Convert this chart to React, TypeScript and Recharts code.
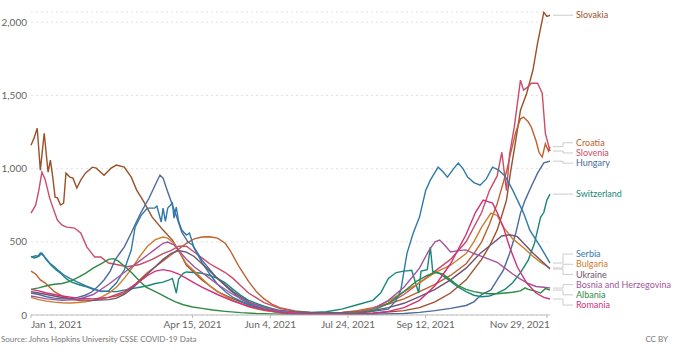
import React from 'react';
import { LineChart, Line, XAxis, YAxis, CartesianGrid } from 'recharts';

// daily new confirmed cases per million, [day since Jan 1 2021, value]
const slovakia: [number, number][] = [
  [0, 1160], [2, 1210], [4, 1276], [6, 990], [8.5, 1242], [11, 976], [12.5, 1058], [14, 940], [15.5, 805],
  [17, 800], [19, 751], [21, 765], [22.5, 969], [25, 942], [27, 935], [29.5, 867], [32, 921], [35, 969],
  [39.5, 1010], [42, 1003], [47, 955], [51.5, 1003], [55, 1024], [60, 1010], [64.5, 942], [68, 853], [72, 785],
  [78, 669], [85, 580], [91, 512], [96, 423], [100, 340], [105, 290], [110, 240], [115, 200], [120, 160],
  [130, 110], [140, 70], [150, 40], [160, 20], [170, 12], [180, 8], [200, 8], [220, 12], [240, 30], [250, 50],
  [260, 90], [270, 150], [280, 240], [290, 380], [295, 470], [300, 580], [303, 680], [306, 785], [308.5, 969],
  [312, 1195], [315, 1399], [319, 1515], [323, 1672], [326, 1857], [330, 2068], [332, 2040], [334, 2048],
];
const croatia: [number, number][] = [
  [0, 300], [3, 280], [6, 240], [9, 220], [12, 190], [15, 160], [20, 130], [25, 110], [30, 100], [35, 95],
  [40, 100], [45, 110], [50, 120], [55, 130], [60, 150], [65, 190], [70, 240], [75, 290], [80, 330], [85, 370],
  [90, 410], [95, 450], [100, 490], [105, 520], [110, 533], [115, 535], [120, 525], [125, 490], [128, 444],
  [134, 328], [140, 230], [145, 160], [150, 110], [155, 75], [160, 50], [170, 28], [180, 18], [190, 15],
  [200, 18], [210, 30], [220, 50], [230, 75], [240, 110], [250, 160], [260, 210], [270, 270], [280, 350],
  [285, 420], [290, 500], [295, 620], [300, 760], [303, 870], [306, 980], [309, 1120], [312, 1250], [315, 1340],
  [317, 1352], [320, 1320], [322, 1283], [325, 1190], [327, 1110], [329, 1079], [331, 1170], [333, 1120], [334, 1150],
];
const slovenia: [number, number][] = [
  [0, 696], [3, 750], [5, 850], [7, 976], [9, 930], [12, 800], [14, 737], [17, 648], [20, 614], [23, 600],
  [28, 594], [32, 560], [36, 464], [39, 423], [41, 396], [45, 396], [48, 370], [50, 355], [55, 345], [62, 330],
  [70, 345], [78, 380], [85, 420], [90, 440], [95, 470], [100, 470], [105, 430], [110, 390], [115, 350],
  [120, 320], [125, 290], [130, 250], [135, 200], [140, 150], [150, 85], [160, 45], [170, 25], [180, 15],
  [190, 12], [200, 15], [210, 25], [220, 45], [230, 80], [240, 140], [250, 220], [260, 300], [270, 380],
  [280, 500], [290, 700], [295, 850], [300, 950], [303, 1112], [306, 850], [308, 1100], [311, 1283], [315, 1604],
  [317, 1536], [320, 1560], [322, 1583], [326, 1583], [329, 1515], [331, 1242], [334, 1120],
];
const hungary: [number, number][] = [
  [0, 150], [5, 140], [10, 125], [15, 115], [20, 110], [25, 110], [30, 120], [35, 135], [39, 157], [43, 195],
  [47, 239], [51, 300], [54, 375], [57, 420], [60, 464], [64.5, 560], [68, 640], [71, 705], [76, 799], [80, 890],
  [83, 956], [85, 935], [88, 840], [91, 751], [94, 662], [97, 567], [101, 498], [104, 478], [110, 375],
  [119, 260], [128, 171], [135, 110], [140, 80], [150, 35], [160, 15], [170, 8], [180, 5], [200, 4], [220, 5],
  [240, 10], [250, 18], [260, 30], [270, 45], [280, 65], [285, 90], [290, 140], [296, 171], [300, 240],
  [304, 307], [308, 420], [312, 560], [315, 696], [318, 785], [322, 880], [326, 969], [330, 1040], [332, 1045],
  [334, 1051],
];
const switzerland: [number, number][] = [
  [0, 400], [2, 390], [4, 395], [6, 423], [8, 405], [10, 375], [13, 340], [16, 310], [19, 285], [22, 255],
  [25, 230], [30, 210], [35, 195], [40, 175], [45, 165], [50, 160], [55, 160], [60, 170], [65, 180], [70, 190],
  [75, 200], [80, 215], [85, 225], [89, 240], [91, 250], [93.5, 150], [95, 245], [98, 285], [100, 294],
  [105, 290], [110, 285], [115, 270], [120, 250], [125, 220], [130, 175], [135, 135], [140, 100], [145, 80],
  [150, 60], [155, 45], [160, 32], [170, 20], [180, 18], [190, 22], [200, 40], [210, 70], [220, 100], [225, 150],
  [230, 250], [235, 290], [240, 300], [245, 305], [249.5, 150], [251, 300], [255, 310], [257, 464], [258.5, 300],
  [262, 290], [266, 260], [270, 230], [275, 190], [280, 160], [285, 135], [290, 125], [295, 130], [300, 150],
  [305, 175], [310, 220], [315, 290], [320, 375], [324, 490], [326, 580], [328, 669], [330, 700], [332, 785],
  [334, 826],
];
const serbia: [number, number][] = [
  [0, 395], [3, 405], [5, 400], [7, 423], [9, 395], [12, 355], [15, 330], [18, 300], [21, 275], [25, 250],
  [30, 225], [35, 200], [40, 180], [45, 160], [50, 165], [55, 220], [60, 307], [64.5, 444], [67, 600], [71, 683],
  [75, 730], [79.5, 730], [81, 745], [83.8, 635], [85, 730], [86.5, 640], [88, 730], [91, 764], [92, 662],
  [93.5, 737], [95, 640], [97, 580], [100, 546], [102, 560], [105, 457], [110, 360], [115, 280], [120, 210],
  [125, 160], [130, 120], [140, 70], [150, 40], [160, 20], [170, 12], [180, 8], [195, 8], [210, 12], [220, 25],
  [230, 40], [235, 100], [238, 170], [242, 423], [246, 560], [250, 669], [254, 850], [257, 921], [262, 1010],
  [265, 980], [268, 942], [272, 1000], [275, 1038], [278, 1000], [281, 942], [285, 905], [289, 887], [293, 930],
  [297, 1010], [301, 990], [305, 950], [310, 853], [317, 696], [321, 580], [328, 464], [334, 355],
];
const bulgaria: [number, number][] = [
  [0, 120], [5, 105], [10, 95], [15, 88], [20, 84], [25, 82], [30, 85], [35, 90], [40, 100], [45, 120],
  [50, 150], [55, 190], [60, 250], [65, 320], [70, 400], [75, 470], [80, 515], [85, 533], [88, 525], [92, 490],
  [96, 420], [100, 350], [105, 300], [110, 250], [115, 200], [120, 160], [130, 100], [140, 55], [150, 30],
  [160, 18], [170, 12], [190, 10], [200, 14], [210, 22], [220, 45], [230, 95], [240, 160], [250, 220],
  [260, 290], [270, 340], [280, 420], [285, 500], [290, 600], [296, 696], [300, 680], [304, 600], [310, 520],
  [317, 460], [322, 410], [328, 360], [334, 321],
];
const ukraine: [number, number][] = [
  [0, 160], [5, 150], [10, 140], [20, 120], [30, 105], [40, 100], [50, 105], [55, 115], [60, 140], [65, 180],
  [70, 230], [75, 280], [80, 330], [85, 380], [90, 420], [95, 440], [100, 430], [105, 400], [110, 350],
  [115, 300], [120, 250], [130, 160], [140, 90], [150, 50], [160, 28], [170, 18], [180, 15], [200, 15],
  [210, 20], [220, 30], [230, 50], [240, 80], [250, 125], [260, 175], [270, 240], [280, 320], [289, 420],
  [296, 480], [303, 540], [308, 548], [313, 535], [317, 490], [323, 423], [330, 355], [334, 314],
];
const bosnia: [number, number][] = [
  [0, 130], [5, 120], [10, 110], [20, 100], [30, 105], [40, 140], [50, 210], [60, 290], [70, 370], [75, 410],
  [80, 450], [85, 490], [88, 498], [92, 480], [96, 430], [100, 380], [105, 330], [110, 290], [115, 250],
  [120, 210], [130, 140], [140, 85], [150, 50], [160, 28], [170, 15], [180, 10], [200, 10], [210, 18],
  [220, 40], [230, 100], [240, 190], [250, 320], [256, 440], [260, 500], [263, 512], [266, 480], [270, 430],
  [275, 440], [280, 445], [285, 420], [290, 400], [295, 380], [300, 360], [305, 320], [310, 280], [315, 245],
  [320, 215], [325, 195], [330, 190], [334, 184],
];
const albania: [number, number][] = [
  [0, 175], [5, 185], [10, 200], [15, 210], [20, 215], [25, 230], [30, 255], [35, 285], [40, 320], [45, 350],
  [50, 380], [53, 385], [56, 370], [60, 335], [65, 287], [70, 230], [74, 191], [78, 170], [82, 150], [88, 115],
  [93, 89], [98, 70], [104, 55], [110, 45], [117, 34], [125, 25], [135, 16], [145, 10], [160, 6], [180, 5],
  [200, 6], [210, 12], [220, 30], [230, 80], [240, 160], [248, 230], [255, 270], [260, 290], [265, 280],
  [270, 240], [275, 200], [280, 175], [285, 160], [290, 150], [295, 145], [300, 145], [305, 150], [310, 155],
  [315, 165], [318, 185], [320, 175], [324, 165], [328, 150], [331, 180], [334, 170],
];
const romania: [number, number][] = [
  [0, 175], [5, 165], [10, 150], [20, 130], [30, 115], [40, 110], [50, 120], [60, 160], [70, 230], [75, 270],
  [80, 300], [85, 310], [90, 300], [95, 280], [100, 250], [105, 220], [110, 190], [120, 140], [130, 95],
  [140, 60], [150, 35], [160, 18], [170, 8], [180, 4], [200, 4], [210, 6], [220, 12], [230, 25], [240, 50],
  [250, 100], [260, 200], [270, 350], [280, 550], [286, 700], [291, 785], [297, 764], [300, 700], [304, 600],
  [308, 464], [313, 328], [319, 218], [325, 150], [330, 120], [334, 109],
];

const tickDays = [0, 104, 154, 204, 254, 332];
const tickLabels = ['Jan 1, 2021', 'Apr 15, 2021', 'Jun 4, 2021', 'Jul 24, 2021', 'Sep 12, 2021', 'Nov 29, 2021'];
const yTicks = [0, 500, 1000, 1500, 2000];

const series = [
  { name: 'Slovakia', pts: slovakia, color: '#9A5129' },
  { name: 'Croatia', pts: croatia, color: '#C0602E' },
  { name: 'Slovenia', pts: slovenia, color: '#CB4B68' },
  { name: 'Hungary', pts: hungary, color: '#4C6A9C' },
  { name: 'Switzerland', pts: switzerland, color: '#17877A' },
  { name: 'Serbia', pts: serbia, color: '#2F7AAA' },
  { name: 'Bulgaria', pts: bulgaria, color: '#CF7C2E' },
  { name: 'Ukraine', pts: ukraine, color: '#6E5470' },
  { name: 'Bosnia and Herzegovina', pts: bosnia, color: '#A2559C' },
  { name: 'Albania', pts: albania, color: '#2E8A45' },
  { name: 'Romania', pts: romania, color: '#D1307A' },
];

const W = 680;
const H = 357;
const Y_MAX = 2070;
const PLOT_TOP = 12;
const PLOT_H = 303;
const GAP = 10.2;
const FONT = 'Lato, "Noto Sans", sans-serif';

// push end labels apart so they don't overlap (pixel offsets from the line end)
function layoutLabels() {
  const px = PLOT_H / Y_MAX;
  const items = series
    .map((s) => ({ name: s.name, t: PLOT_TOP + (Y_MAX - s.pts[s.pts.length - 1][1]) * px }))
    .sort((a, b) => a.t - b.t);
  const clusters: { items: typeof items; top: number }[] = [];
  for (const it of items) {
    let c = { items: [it], top: it.t };
    while (clusters.length) {
      const prev = clusters[clusters.length - 1];
      if (prev.top + prev.items.length * GAP <= c.top) break;
      clusters.pop();
      const merged = [...prev.items, ...c.items];
      const mean = merged.reduce((a, b) => a + b.t, 0) / merged.length;
      c = { items: merged, top: mean - ((merged.length - 1) * GAP) / 2 };
    }
    clusters.push(c);
  }
  const out: Record<string, number> = {};
  clusters.forEach((c) => c.items.forEach((it, i) => (out[it.name] = c.top + i * GAP - it.t)));
  return out;
}

const XTick = (props: any) => {
  const { x, y, payload, index } = props;
  const i = tickDays.indexOf(payload.value);
  const anchor = index === 0 ? 'start' : i === tickDays.length - 1 ? 'end' : 'middle';
  return (
    <text x={anchor === 'end' ? x + 3 : x} y={y} dy="0.71em" textAnchor={anchor} fontSize={10} fill="#666" fontFamily={FONT}>
      {tickLabels[i]}
    </text>
  );
};

export default function App() {
  const offsets = layoutLabels();

  const endLabel = (name: string, color: string, last: number) => (p: any) => {
    if (p.index !== last) return <g key={`${name}-${p.index}`} />;
    const ly = p.cy + offsets[name];
    const x0 = p.cx + 3;
    const bx = p.cx + 13;
    const x1 = p.cx + 23;
    return (
      <g key={`${name}-end`}>
        <polyline points={`${x0},${p.cy} ${bx},${p.cy} ${bx},${ly} ${x1},${ly}`} fill="none" stroke="#ccc" strokeWidth={1} />
        <text x={x1 + 3} y={ly} dy="0.35em" fontSize={9} fill={color} fontFamily={FONT}>
          {name}
        </text>
      </g>
    );
  };

  return (
    <div style={{ position: 'absolute', left: 0, top: 0, width: W, height: H, background: '#fff', fontFamily: FONT }}>
      <LineChart width={W} height={H} margin={{ top: PLOT_TOP, right: 130, bottom: 22, left: 0 }}>
        <CartesianGrid vertical={false} stroke="#e2e2e2" strokeDasharray="2 3" />
        <XAxis
          type="number"
          dataKey="d"
          domain={[0, 334]}
          ticks={tickDays}
          tick={<XTick />}
          tickSize={3}
          tickMargin={3}
          height={20}
          stroke="#bbb"
          interval={0}
          allowDuplicatedCategory={false}
        />
        <YAxis
          type="number"
          domain={[0, Y_MAX]}
          ticks={yTicks}
          width={31}
          axisLine={false}
          tickLine={false}
          tickSize={0}
          tickMargin={4}
          tickFormatter={(v: number) => v.toLocaleString('en-US')}
          tick={{ fontSize: 10, fill: '#666', fontFamily: FONT }}
        />
        {series.map((s) => (
          <Line
            key={s.name}
            data={s.pts.map(([d, v]) => ({ d, v }))}
            dataKey="v"
            name={s.name}
            stroke={s.color}
            strokeWidth={1.4}
            type="linear"
            dot={endLabel(s.name, s.color, s.pts.length - 1)}
            activeDot={false}
            isAnimationActive={false}
          />
        ))}
      </LineChart>
      <div style={{ position: 'absolute', left: 1, top: 334, fontSize: 8, color: '#777', whiteSpace: 'nowrap' }}>
        Source: Johns Hopkins University CSSE COVID-19 Data
      </div>
      <div style={{ position: 'absolute', right: 12, top: 334, fontSize: 8, color: '#777' }}>CC BY</div>
    </div>
  );
}
